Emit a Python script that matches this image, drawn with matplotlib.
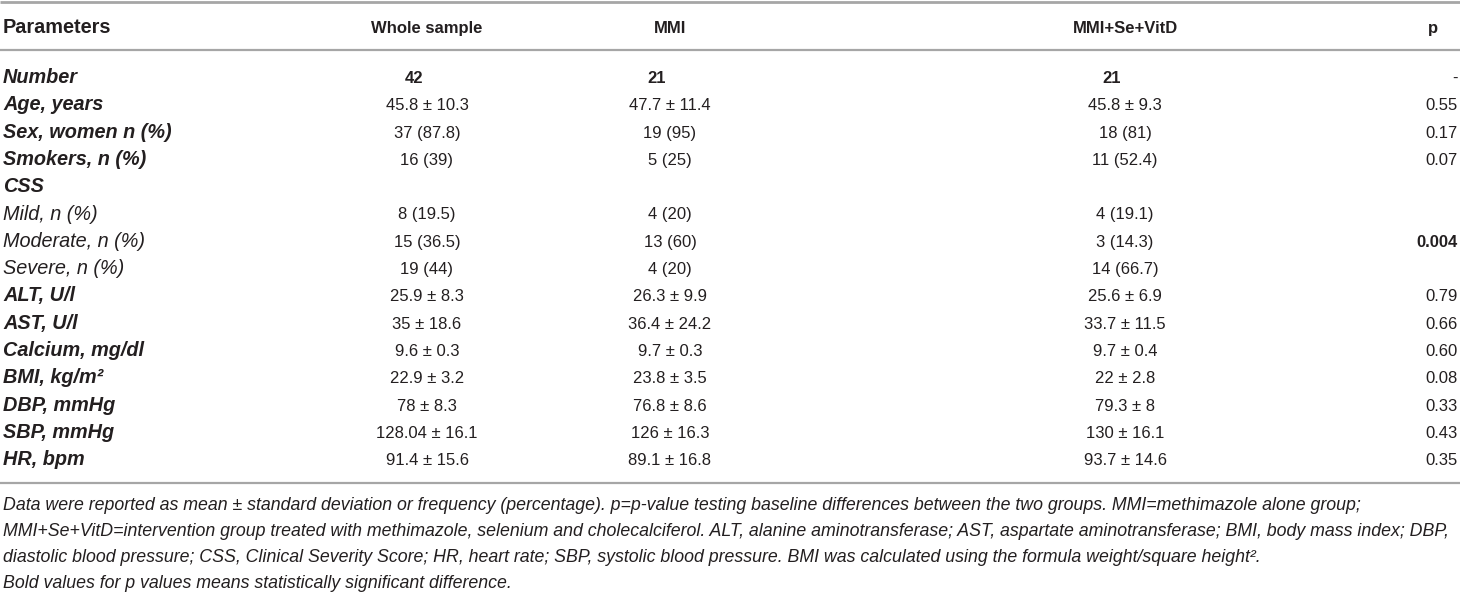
import matplotlib
matplotlib.use("Agg")
import matplotlib.pyplot as plt
from matplotlib import font_manager

# ---------------- data ----------------
headers = ["Parameters", "Whole sample", "MMI", "MMI+Se+VitD", "p"]
params = ["Number", "Age, years", "Sex, women n (%)", "Smokers, n (%)", "CSS",
          "Mild, n (%)", "Moderate, n (%)", "Severe, n (%)", "ALT, U/l", "AST, U/l",
          "Calcium, mg/dl", "BMI, kg/m\u00b2", "DBP, mmHg", "SBP, mmHg", "HR, bpm"]
sub_rows = ["Mild, n (%)", "Moderate, n (%)", "Severe, n (%)"]
whole = ["42", "45.8 \u00b1 10.3", "37 (87.8)", "16 (39)", "", "8 (19.5)", "15 (36.5)",
         "19 (44)", "25.9 \u00b1 8.3", "35 \u00b1 18.6", "9.6 \u00b1 0.3", "22.9 \u00b1 3.2",
         "78 \u00b1 8.3", "128.04 \u00b1 16.1", "91.4 \u00b1 15.6"]
mmi = ["21", "47.7 \u00b1 11.4", "19 (95)", "5 (25)", "", "4 (20)", "13 (60)", "4 (20)",
       "26.3 \u00b1 9.9", "36.4 \u00b1 24.2", "9.7 \u00b1 0.3", "23.8 \u00b1 3.5",
       "76.8 \u00b1 8.6", "126 \u00b1 16.3", "89.1 \u00b1 16.8"]
mmi_se = ["21", "45.8 \u00b1 9.3", "18 (81)", "11 (52.4)", "", "4 (19.1)", "3 (14.3)",
          "14 (66.7)", "25.6 \u00b1 6.9", "33.7 \u00b1 11.5", "9.7 \u00b1 0.4", "22 \u00b1 2.8",
          "79.3 \u00b1 8", "130 \u00b1 16.1", "93.7 \u00b1 14.6"]
pvals = ["-", "0.55", "0.17", "0.07", "", "", "0.004", "", "0.79", "0.66", "0.60",
         "0.08", "0.33", "0.43", "0.35"]
bold_p = ["0.004"]
footnotes = [
    "Data were reported as mean \u00b1 standard deviation or frequency (percentage). "
    "p=p-value testing baseline differences between the two groups. MMI=methimazole alone group;",
    "MMI+Se+VitD=intervention group treated with methimazole, selenium and cholecalciferol. "
    "ALT, alanine aminotransferase; AST, aspartate aminotransferase; BMI, body mass index; DBP,",
    "diastolic blood pressure; CSS, Clinical Severity Score; HR, heart rate; SBP, systolic "
    "blood pressure. BMI was calculated using the formula weight/square height\u00b2.",
    "Bold values for p values means statistically significant difference.",
]

# ---------------- layout ----------------
W, H = 1460, 592
fig = plt.figure(figsize=(W / 100, H / 100), dpi=100)
fig.patch.set_facecolor("white")
ax = fig.add_axes([0, 0, 1, 1])
ax.set_xlim(0, W)
ax.set_ylim(H, 0)
ax.axis("off")

names = {f.name for f in font_manager.fontManager.ttflist}
base = "Liberation Sans"
narrow = "Liberation Sans Narrow" if "Liberation Sans Narrow" in names else base
vsize = 13.5 if narrow != base else 12
lsize = 14.3

TXT = "#231f20"
LINE = "#a6a6a6"

# rules
for y, lw in [(2, 2.0), (50, 1.6), (483, 1.6)]:
    ax.plot([0, W], [y, y], color=LINE, lw=lw, solid_capstyle="butt")

# header
hy = 33
ax.text(3, hy, headers[0], fontfamily=base, fontweight="bold", fontsize=lsize,
        color=TXT, ha="left", va="baseline")
col_x = [427, 670, 1125]
for x, h in zip(col_x, headers[1:4]):
    ax.text(x, hy, h, fontfamily=narrow, fontweight="bold", fontsize=vsize,
            color=TXT, ha="center", va="baseline")
ax.text(1433, hy, headers[4], fontfamily=narrow, fontweight="bold", fontsize=vsize,
        color=TXT, ha="center", va="baseline")

# rows
y0, dy = 83, 27.3
for i, name in enumerate(params):
    y = y0 + i * dy
    sub = name in sub_rows
    ax.text(3, y, name, fontfamily=base, fontstyle="italic",
            fontweight="normal" if sub else "bold", fontsize=lsize,
            color=TXT, ha="left", va="baseline")
    is_num = (i == 0)
    for x, col in zip(col_x, [whole, mmi, mmi_se]):
        ax.text(x - (13 if is_num else 0), y, col[i], fontfamily=narrow,
                fontweight="bold" if is_num else "normal", fontsize=vsize,
                color=TXT, ha="center", va="baseline")
    pv = pvals[i]
    ax.text(1458, y, pv, fontfamily=narrow,
            fontweight="bold" if pv in bold_p else "normal", fontsize=vsize,
            color=TXT, ha="right", va="baseline")

# footnotes (size chosen so the longest line fits the table width)
fig.canvas.draw()
r = fig.canvas.get_renderer()
widths = []
for line in footnotes:
    probe = ax.text(0, 0, line, fontfamily=base, fontstyle="italic", fontsize=12)
    widths.append(probe.get_window_extent(renderer=r).width)
    probe.remove()
fsize = 12 * 1450 / max(widths)
fy0, fdy = 510, 26
for j, line in enumerate(footnotes):
    ax.text(3, fy0 + j * fdy, line, fontfamily=base, fontstyle="italic",
            fontsize=fsize, color=TXT, ha="left", va="baseline")

fig.savefig("out.png", dpi=100, facecolor="white")
